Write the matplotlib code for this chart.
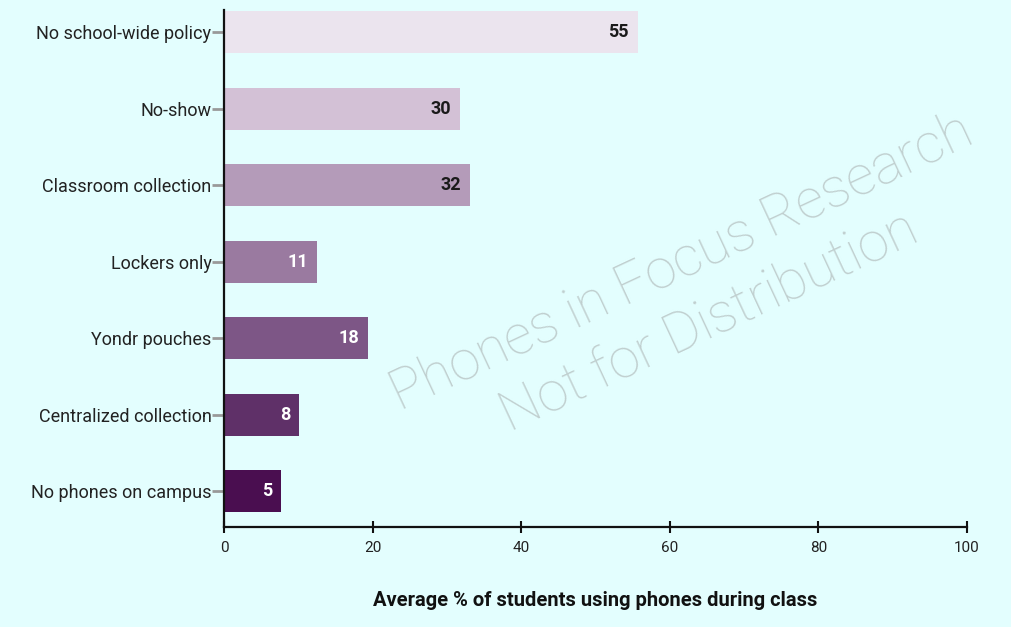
import matplotlib
matplotlib.use("Agg")
import matplotlib.pyplot as plt

# data, top to bottom as in the chart
policies = ["No school-wide policy", "No-show", "Classroom collection", "Lockers only",
            "Yondr pouches", "Centralized collection", "No phones on campus"]
bar_values = [55.7, 31.8, 33.1, 12.5, 19.4, 10.1, 7.7]
value_labels = ["55", "30", "32", "11", "18", "8", "5"]
bar_colors = ["#ebe4ee", "#d3c1d6", "#b49bb9", "#9a7aa0", "#7d5686", "#5f3068", "#4a0e50"]
label_colors = ["#1a1a1a", "#1a1a1a", "#1a1a1a", "white", "white", "white", "white"]
x_ticks = [0, 20, 40, 60, 80, 100]

bg = "#e3fefe"
plt.rcParams["font.family"] = ["Roboto", "DejaVu Sans"]

fig = plt.figure(figsize=(10.12, 6.27), dpi=100, facecolor=bg)
ax = fig.add_axes([0.2213, 0.1595, 0.7342, 0.8245])
ax.set_facecolor(bg)

ypos = list(range(len(policies)))
ax.barh(ypos, bar_values, height=0.55, color=bar_colors, zorder=2)

for y, v, lab, c in zip(ypos, bar_values, value_labels, label_colors):
    ax.text(v - 1.2, y, lab, ha="right", va="center", fontsize=13,
            fontweight="bold", color=c, zorder=3)

ax.set_ylim(6.47, -0.29)
ax.set_xlim(0, 100)
ax.set_yticks(ypos)
ax.set_yticklabels(policies, fontsize=13, color="#222222")
ax.set_xticks(x_ticks)
ax.set_xticklabels([str(t) for t in x_ticks], fontsize=11, color="#222222")

for s in ["top", "right"]:
    ax.spines[s].set_visible(False)
ax.spines["left"].set_linewidth(1.6)
ax.spines["bottom"].set_linewidth(1.6)
ax.spines["left"].set_color("#111111")
ax.spines["bottom"].set_color("#111111")

ax.tick_params(axis="y", length=8.5, width=2, color="#999999", pad=0.5)
ax.tick_params(axis="x", direction="inout", length=8, width=1.5, color="#111111", pad=6)

ax.set_xlabel("Average % of students using phones during class", fontsize=14.5,
              fontweight="bold", color="#111111", labelpad=26)

# watermark
fig.text(0.687, 0.535, "Phones in Focus Research\nNot for Distribution", ha="center", va="center",
         rotation=25, fontsize=40, fontweight="light", color="#b8c4c4", alpha=0.8,
         linespacing=1.3, zorder=10)

fig.savefig("out.png", dpi=100, facecolor=bg)
